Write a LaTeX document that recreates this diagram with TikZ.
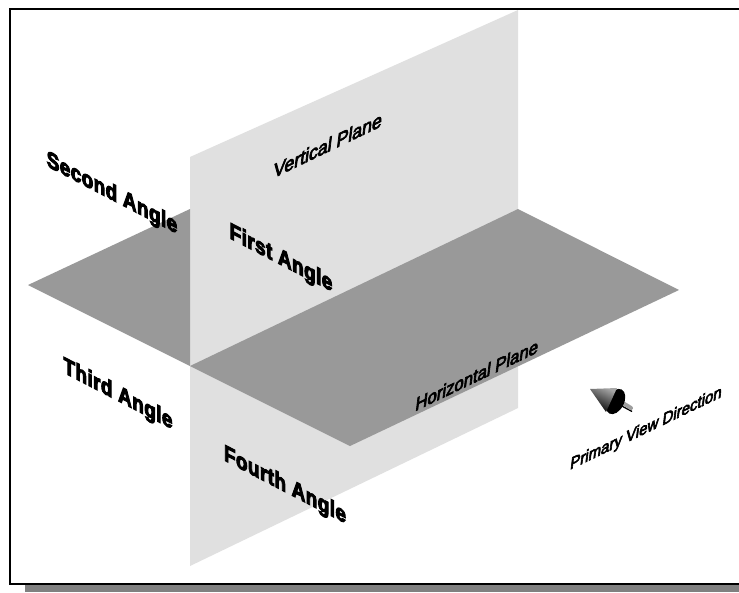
\documentclass[tikz,border=0pt]{standalone}
\usepackage{fontspec}
\setmainfont{Liberation Sans}
\newfontfamily\heavyf[FakeBold=5,LetterSpace=2]{Liberation Sans Bold}
\newfontfamily\medf[FakeBold=4.2]{Liberation Sans}
\definecolor{vplane}{HTML}{E0E0E0}
\definecolor{hplane}{HTML}{999999}
\definecolor{shadowc}{HTML}{808080}
\tikzset{
  vplanestyle/.style={fill=vplane,draw=none},
  hplanestyle/.style={fill=hplane,draw=none},
  heavylabel/.style={font=\heavyf\fontsize{19}{20}\selectfont,text=black,inner sep=0pt,transform shape},
  thinlabel/.style={font=\medf\fontsize{16.7}{17}\selectfont,text=black,inner sep=0pt,transform shape},
  downshear/.style={cm={1,-0.52,0,1.2,(0,0)}},
  upshear/.style={cm={1,0.48,0.14,1.15,(0,0)}},
}
\begin{document}
\begin{tikzpicture}[x=1pt,y=-1pt]
\useasboundingbox (0,0) rectangle (739,592);
\fill[white] (0,0) rectangle (739,592);
\fill[shadowc] (25,584) rectangle (739,592);
\draw[line width=2pt,black] (739,9) -- (10,9) -- (10,583.5) -- (739,583.5);
% planes
\fill[vplanestyle] (190,157) -- (518,10) -- (518,408) -- (190,566) -- cycle;
\fill[hplanestyle] (28,285) -- (190,209) -- (190,366) -- cycle;
\fill[hplanestyle] (190,366) -- (350,446) -- (679,290) -- (518,209) -- cycle;
% labels
\begin{scope}[shift={(112,194)},downshear]\node[heavylabel] (second) {Second Angle};\end{scope}
\begin{scope}[shift={(281,259)},downshear]\node[heavylabel] (first) {First Angle};\end{scope}
\begin{scope}[shift={(118,395)},downshear]\node[heavylabel] (third) {Third Angle};\end{scope}
\begin{scope}[shift={(285,486)},downshear]\node[heavylabel] (fourth) {Fourth Angle};\end{scope}
\begin{scope}[shift={(328,145)},upshear]\node[thinlabel,font=\medf\fontsize{17.7}{18}\selectfont] (vert) {Vertical Plane};\end{scope}
\begin{scope}[shift={(477,375)},upshear]\node[thinlabel] (horiz) {Horizontal Plane};\end{scope}
\begin{scope}[shift={(646,429)},upshear]\node[thinlabel,font=\medf\fontsize{15}{16}\selectfont] (prim) {Primary View Direction};\end{scope}
% view direction arrow
\draw[line width=1.3pt,color=black] (620,405) -- (632,411.5);
\draw[line width=4pt,color=black!38,line cap=round] (622,402.5) -- (631,408);
\fill[black,rotate around={63:(615.5,401.5)}] (615.5,401.5) ellipse (13.5 and 8.5);
\shade[top color=black!35,bottom color=black,shading angle=-25] (590,389) -- (617,388) -- (606,412) -- cycle;
\end{tikzpicture}
\end{document}
